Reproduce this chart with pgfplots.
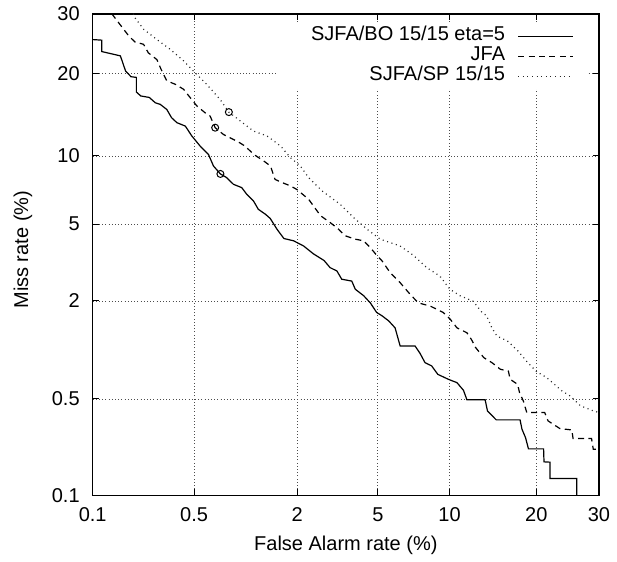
\documentclass[border=0pt]{standalone}
\usepackage{fontspec}
\setmainfont{Liberation Sans}
\usepackage{pgfplots}
\pgfplotsset{compat=1.18}

% normal deviate of a percentage (Abramowitz & Stegun 26.2.23, p < 50%)
\pgfmathdeclarefunction{probit}{1}{%
  \begingroup
  \pgfmathparse{sqrt(-2*(ln(#1)-4.60517))}%
  \let\pbt\pgfmathresult
  \pgfmathparse{-\pbt+(2.515517+0.802853*\pbt+0.010328*\pbt*\pbt)/(1+1.432788*\pbt+0.189269*\pbt*\pbt+0.001308*\pbt*\pbt*\pbt)}%
  \pgfmathsmuggle\pgfmathresult
  \endgroup}
\pgfplotsset{probit trafo/.code={\begingroup
  \pgfkeys{/pgf/fpu=true,/pgf/fpu/output format=fixed}%
  \pgfmathparse{probit(#1)}\pgfmathsmuggle\pgfmathresult\endgroup}}

\begin{document}
\begin{tikzpicture}
\begin{axis}[
    name=ax,
    scale only axis,
    width=253.15pt, height=240.85pt,
    xmin=0.1, xmax=30, ymin=0.1, ymax=30,
    x coord trafo/.code={\pgfplotsset{probit trafo={#1}}},
    y coord trafo/.code={\pgfplotsset{probit trafo={#1}}},
    xtick={0.1,0.5,2,5,10,20,30},
    xticklabels={0.1,0.5,2,5,10,20,30},
    ytick={0.1,0.5,2,5,10,20,30},
    yticklabels={0.1,0.5,2,5,10,20,30},
    xticklabel shift=2.6pt,
    yticklabel shift=3pt,
    major tick length=3pt,
    tick style={black, line width=0.5pt},
    axis line style={line width=0.8pt},
    grid=major,
    grid style={black!70, line width=0.4pt, dash pattern=on 0.4pt off 1.2pt},
    xlabel={False Alarm rate (\%)},
    ylabel={Miss rate (\%)},
    every axis x label/.style={at={(rel axis cs:0.5,-0.1038)}, anchor=center},
    every axis y label/.style={at={(rel axis cs:-0.1377,0.51)}, anchor=center, rotate=90},
    legend cell align=right,
    legend plot pos=right,
    legend image code/.code={\draw[#1] (0pt,0pt) -- (27.5pt,0pt);},
    legend style={at={(rel axis cs:0.9763,0.9813)}, anchor=north east,
        fill=white, draw=none, inner xsep=6.35pt, inner ysep=1.5pt,
        row sep=0pt, column sep=6.3pt,
        nodes={inner sep=0pt, text height=7.2pt, text depth=2.8pt}},
]
% SJFA/BO 15/15 eta=5
\addplot[black, line width=0.6pt] coordinates {
(0.1,25.4) (0.1165,25.3) (0.1165,23.4) (0.159,22.7) (0.173,20.35) (0.189,19.5)
(0.206,19.4) (0.206,17.33) (0.221,16.8) (0.253,16.6) (0.278,15.9) (0.3,15.7)
(0.332,15.05) (0.357,14.05) (0.387,13.47) (0.439,13.08) (0.483,12.0) (0.546,10.95)
(0.615,10.15) (0.661,9.09) (0.729,8.42) (0.796,8.12) (0.873,7.6) (0.978,7.35)
(1.048,6.86) (1.145,6.41) (1.221,5.87) (1.339,5.57) (1.426,5.32) (1.554,4.73)
(1.697,4.26) (1.915,4.15) (2.165,3.91) (2.435,3.57) (2.76,3.30) (2.96,3.03)
(3.2,2.91) (3.38,2.63) (3.78,2.57) (3.93,2.32) (4.30,2.14) (4.62,1.95)
(4.94,1.72) (5.21,1.65) (5.59,1.54) (5.97,1.40) (6.28,1.09) (7.27,1.09)
(7.63,0.98) (7.99,0.86) (8.5,0.82) (9.0,0.724) (9.9,0.673) (10.68,0.64)
(11.3,0.57) (11.63,0.494) (13.54,0.494) (13.8,0.415) (14.8,0.36) (17.77,0.36)
(18.02,0.31) (18.5,0.27) (18.9,0.224) (21.04,0.224) (21.1,0.180) (22.0,0.179)
(22.0,0.135) (26.2,0.135) (26.2,0.1)
};
\addlegendentry{\hspace*{11.15pt}SJFA/BO 15/15 eta=5}
% JFA
\addplot[black, line width=0.6pt, dash pattern=on 3pt off 2.2pt] coordinates {
(0.138,30.0) (0.164,27.5) (0.182,26.05) (0.201,25.0) (0.231,24.6) (0.249,23.2)
(0.285,22.1) (0.304,20.6) (0.332,18.9) (0.378,18.4) (0.428,17.7) (0.472,16.57)
(0.52,15.5) (0.586,14.65) (0.63,14.25) (0.677,12.9) (0.76,12.16) (0.834,11.8)
(0.935,11.37) (1.023,10.95) (1.15,10.14) (1.31,9.54) (1.43,9.09) (1.517,7.98)
(1.66,7.73) (1.84,7.48) (1.99,7.22) (2.3,6.52) (2.65,5.48) (2.97,5.08)
(3.26,4.73) (3.5,4.4) (3.92,4.23) (4.3,4.15) (4.62,3.84) (4.94,3.51)
(5.21,3.30) (5.68,2.85) (6.28,2.52) (6.92,2.18) (7.5,1.95) (8.4,1.87)
(9.45,1.72) (10.04,1.58) (10.68,1.40) (11.63,1.31) (12.1,1.19) (12.5,1.07)
(13.4,0.923) (14.3,0.86) (15.3,0.78) (16.27,0.76) (16.5,0.673) (17.45,0.624)
(17.7,0.551) (18.2,0.485) (18.67,0.404) (21.2,0.404) (21.7,0.354) (23.5,0.313)
(25.4,0.306) (25.6,0.266) (28.7,0.266) (29.0,0.223) (30.0,0.223)
};
\addlegendentry{JFA}
% SJFA/SP 15/15
\addplot[black!85, line width=0.6pt, dash pattern=on 0.5pt off 1.8pt] coordinates {
(0.196,30.0) (0.201,29.3) (0.231,27.2) (0.285,25.4) (0.348,23.8) (0.428,21.9)
(0.494,20.35) (0.6,18.4) (0.725,16.34) (0.82,14.73) (0.96,13.66) (1.145,12.53)
(1.37,11.99) (1.63,10.95) (1.84,9.84) (2.08,9.09) (2.3,8.12) (2.7,7.1)
(3.32,6.19) (3.85,5.38) (4.46,4.73) (5.12,4.23) (6.28,3.91) (7.15,3.51)
(8.12,3.03) (9.15,2.74) (10.04,2.32) (10.95,2.14) (12.29,1.99) (13.2,1.72)
(13.7,1.65) (14.3,1.40) (14.9,1.25) (16.15,1.17) (17.5,1.015) (18.8,0.86)
(20.04,0.754) (21.5,0.69) (23.8,0.566) (25.1,0.524) (26.8,0.45) (29.0,0.415)
(30.0,0.404)
};
\addlegendentry{SJFA/SP 15/15}
% operating points
\addplot[only marks, mark=o, mark size=1.75pt, black, mark options={line width=0.5pt}, forget plot]
    coordinates {(0.729,8.42) (0.677,12.9) (0.82,14.73)};
\end{axis}
\path ([shift={(-46.35pt,-31.65pt)}]ax.south west) rectangle ([shift={(9pt,5.5pt)}]ax.north east);
\end{tikzpicture}
\end{document}
